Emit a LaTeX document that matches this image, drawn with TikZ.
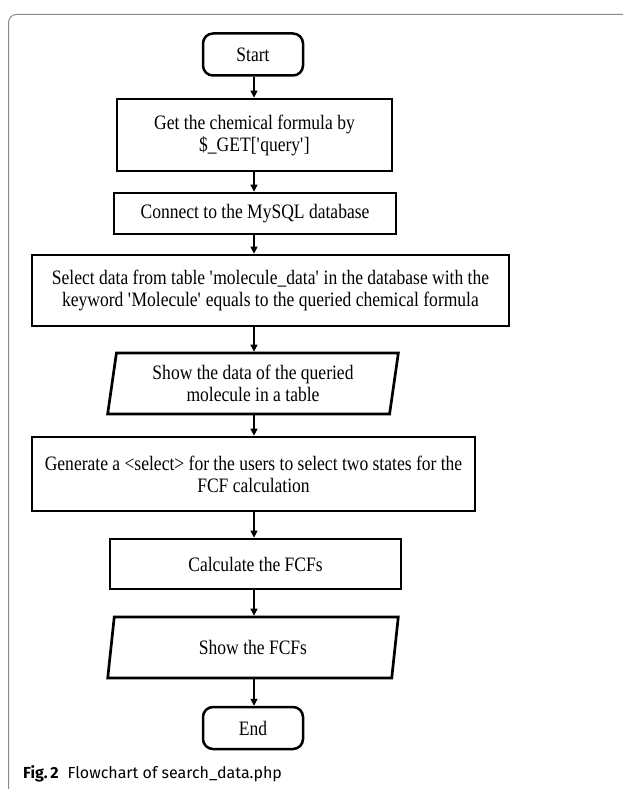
\documentclass[tikz,border=0pt]{standalone}
\usepackage{fontspec}
\setmainfont{Liberation Serif}[FakeStretch=0.855]
\newfontfamily\capfont{Fira Sans}
\usetikzlibrary{arrows.meta,shapes.geometric}
\begin{document}
\begin{tikzpicture}[x=1pt,y=-1pt,
  every node/.style={font=\fontsize{20.5}{22}\selectfont, align=center, inner sep=0pt},
  procbox/.style={draw, line width=2.7pt, rectangle},
  termbox/.style={draw, line width=2.5pt, rectangle, rounded corners=10pt, minimum width=100pt, minimum height=42pt},
  iobox/.style={draw, line width=2.7pt, trapezium, trapezium left angle=80, trapezium right angle=100, trapezium stretches=true, minimum width=291pt, minimum height=61pt},
  arr/.style={line width=1.2pt, -{Triangle[length=7pt,width=7pt]}},
  framestyle/.style={draw=black!45, line width=1pt, rounded corners=8pt}
]
\useasboundingbox[fill=white] (0,0) rectangle (622,789);
\draw[framestyle] (8.5,800) -- (8.5,14.5) -- (630,14.5);

\coordinate (spine) at (254,0);

\node[termbox] (start) at (253,54.5) {Start};
\node[procbox, minimum width=275pt, minimum height=72pt] (b1) at (254.5,135) {Get the chemical formula by\\\$\_GET[\textquotesingle query\textquotesingle]};
\node[procbox, minimum width=282pt, minimum height=41pt] (b2) at (255,213.5) {Connect to the MySQL database};
\node[procbox, minimum width=477pt, minimum height=71pt] (b3) at (270.5,290.5) {Select data from table \textquotesingle molecule\_data\textquotesingle\ in the database with the\\keyword \textquotesingle Molecule\textquotesingle\ equals to the queried chemical formula};
\node[iobox] (p1) at (253,383.5) {Show the data of the queried\\molecule in a table};
\node[procbox, minimum width=443pt, minimum height=74pt] (b4) at (253.5,474) {Generate a <select> for the users to select two states for the\\FCF calculation};
\node[procbox, minimum width=291pt, minimum height=50pt] (b5) at (255.5,564) {Calculate the FCFs};
\node[iobox] (p2) at (253,647.5) {Show the FCFs};
\node[termbox] (end) at (253,728) {End};

\draw[arr] (start.south -| spine) -- (b1.north -| spine);
\draw[arr] (b1.south -| spine) -- (b2.north -| spine);
\draw[arr] (b2.south -| spine) -- (b3.north -| spine);
\draw[arr] (b3.south -| spine) -- (p1.north -| spine);
\draw[arr] (p1.south -| spine) -- (b4.north -| spine);
\draw[arr] (b4.south -| spine) -- (b5.north -| spine);
\draw[arr] (b5.south -| spine) -- (p2.north -| spine);
\draw[arr] (p2.south -| spine) -- (end.north -| spine);

\node[anchor=base west, font=\capfont\fontsize{16}{19}\selectfont] (cap) at (23,778) {\textbf{Fig.\,2}\hspace{9pt}Flowchart of search\_data.php};
\end{tikzpicture}
\end{document}
